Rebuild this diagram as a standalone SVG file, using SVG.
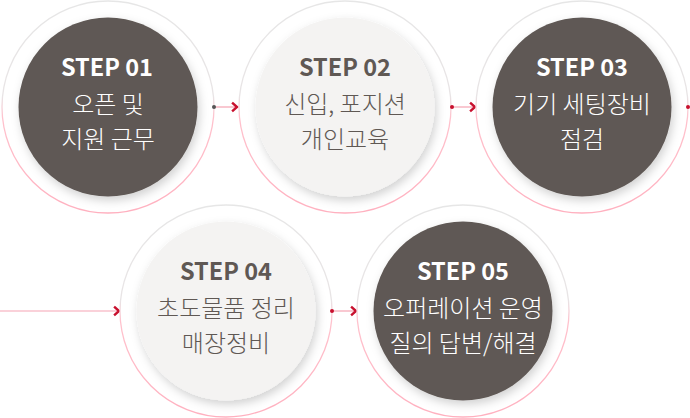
<svg xmlns="http://www.w3.org/2000/svg" width="690" height="418" viewBox="0 0 690 418">
<defs>
<linearGradient id="ring" x1="0" y1="0" x2="0" y2="1">
<stop offset="0" stop-color="#e6e6e6"/>
<stop offset="0.45" stop-color="#e8e4e5"/>
<stop offset="0.55" stop-color="#ffc2cd"/>
<stop offset="1" stop-color="#ffb0bf"/>
</linearGradient>
<filter id="sh" x="-20%" y="-20%" width="140%" height="140%">
<feDropShadow dx="2" dy="4" stdDeviation="5" flood-color="#000" flood-opacity="0.18"/>
</filter>
<style>
.ring{fill:#fff;stroke:url(#ring);stroke-width:1.3}
.dark{fill:#5f5854;filter:url(#sh)}
.light{fill:#f4f3f2;filter:url(#sh)}
text{font-family:"Noto Sans CJK KR","Noto Sans",sans-serif;text-anchor:middle}
.step{font-size:23.5px;font-weight:bold}
.t{font-size:24px;font-weight:300}
.w{fill:#ffffff}
.g{fill:#5f5854}
.ln{stroke:#f5a3b3;stroke-width:1.2;fill:none}
.chev{stroke:#c8102e;stroke-width:2.4;fill:none;stroke-linecap:square}
</style>
</defs>
<g id="connectors">
<line class="ln" x1="214" y1="107" x2="236" y2="107"/>
<polyline class="chev" points="233,103.5 237,107 233,110.5"/>
<line class="ln" x1="452" y1="107" x2="474" y2="107"/>
<polyline class="chev" points="471,103.5 475,107 471,110.5"/>
<line class="ln" x1="0" y1="311" x2="118" y2="311"/>
<polyline class="chev" points="115,307.5 119,311 115,314.5"/>
<line class="ln" x1="332" y1="311" x2="355" y2="311"/>
<polyline class="chev" points="352,307.5 356,311 352,314.5"/>
</g>
<g id="step1">
<circle class="ring" cx="108" cy="107" r="106"/>
<circle class="dark" cx="108" cy="107" r="89.5"/>
<text class="step w" x="107" y="76">STEP 01</text>
<text class="t w" x="108" y="113">오픈 및</text>
<text class="t w" x="108" y="148">지원 근무</text>
</g>
<g id="step2">
<circle class="ring" cx="345" cy="107" r="106"/>
<circle class="light" cx="345" cy="107" r="89.5"/>
<text class="step g" x="345" y="76">STEP 02</text>
<text class="t g" x="345" y="113">신입, 포지션</text>
<text class="t g" x="345" y="148">개인교육</text>
</g>
<g id="step3">
<circle class="ring" cx="582" cy="107" r="106"/>
<circle class="dark" cx="582" cy="107" r="89.5"/>
<text class="step w" x="582" y="76">STEP 03</text>
<text class="t w" x="582" y="113">기기 세팅장비</text>
<text class="t w" x="582" y="148">점검</text>
</g>
<g id="step4">
<circle class="ring" cx="226" cy="311" r="106"/>
<circle class="light" cx="226" cy="311" r="89.5"/>
<text class="step g" x="226" y="280">STEP 04</text>
<text class="t g" x="226" y="317">초도물품 정리</text>
<text class="t g" x="226" y="352">매장정비</text>
</g>
<g id="step5">
<circle class="ring" cx="463" cy="311" r="106"/>
<circle class="dark" cx="463" cy="311" r="89.5"/>
<text class="step w" x="463" y="280">STEP 05</text>
<text class="t w" x="463" y="317">오퍼레이션 운영</text>
<text class="t w" x="463" y="352">질의 답변/해결</text>
</g>
<g id="dots">
<circle cx="214" cy="107" r="2" fill="#555"/>
<circle cx="452" cy="107" r="2" fill="#c8102e"/>
<circle cx="688" cy="107" r="2" fill="#c8102e"/>
<circle cx="332" cy="311" r="2" fill="#c8102e"/>
</g>
</svg>
